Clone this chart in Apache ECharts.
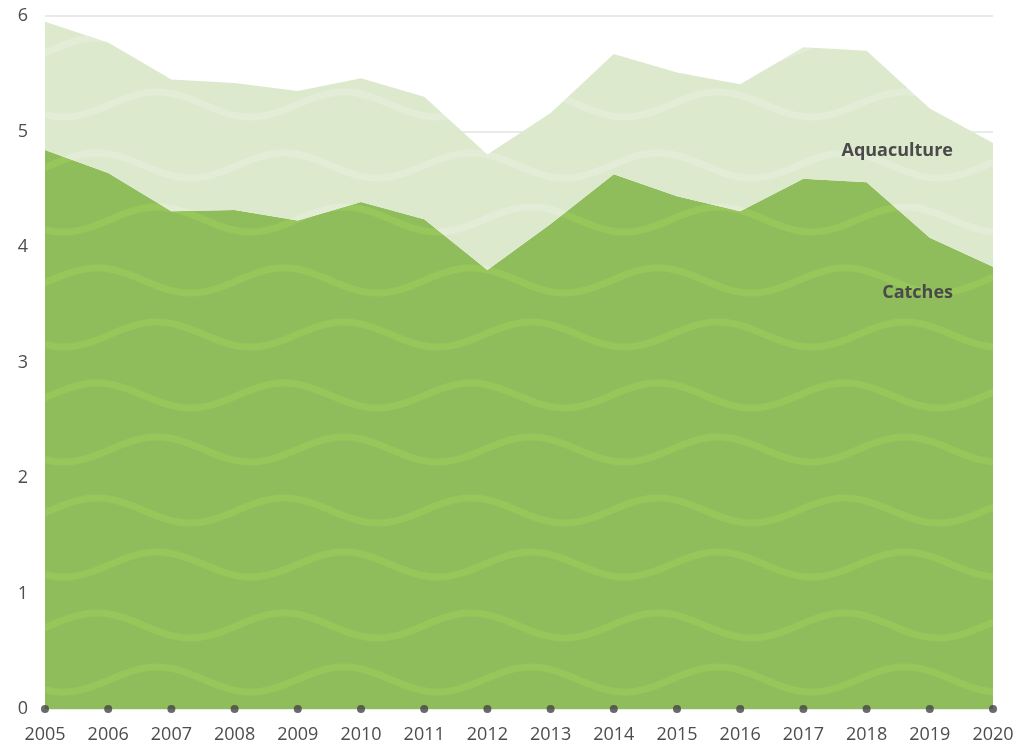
<!DOCTYPE html>
<html>
<head>
<meta charset="utf-8">
<style>
    html, body { margin: 0; padding: 0; background: #fff; }
    #chart { width: 1020px; height: 744px; }
</style>
<script src="https://cdn.jsdelivr.net/npm/echarts@6/dist/echarts.min.js"></script>
</head>
<body>
<div id="chart"></div>
<script>
    // years on the x axis
    var years = ['2005', '2006', '2007', '2008', '2009', '2010', '2011', '2012',
                 '2013', '2014', '2015', '2016', '2017', '2018', '2019', '2020'];
    // bottom layer
    var catches = [4.84, 4.64, 4.31, 4.32, 4.23, 4.39, 4.24, 3.80,
                   4.20, 4.63, 4.44, 4.31, 4.59, 4.56, 4.08, 3.83];
    // stacked on top of catches
    var aquaculture = [1.11, 1.13, 1.14, 1.10, 1.12, 1.07, 1.06, 1.00,
                       0.96, 1.04, 1.07, 1.10, 1.14, 1.14, 1.12, 1.07];
    var yTicks = [0, 1, 2, 3, 4, 5, 6];

    var FONT = '"Open Sans", "Noto Sans", sans-serif';

    // wavy fill used by both areas
    function makeWave(bg, fg) {
        var w = 187, h = 115;
        var c = document.createElement('canvas');
        c.width = w; c.height = h;
        var ctx = c.getContext('2d');
        ctx.fillStyle = bg;
        ctx.fillRect(0, 0, w, h);
        ctx.strokeStyle = fg;
        ctx.lineWidth = 7;
        function wave(cy, crestX) {
            ctx.beginPath();
            for (var x = -4; x <= w + 4; x++) {
                var y = cy - 12.5 * Math.cos(2 * Math.PI * (x - crestX) / w);
                if (x === -4) ctx.moveTo(x, y); else ctx.lineTo(x, y);
            }
            ctx.stroke();
        }
        wave(50.5, 97);
        wave(104.5, 157);
        wave(104.5 - h, 157);
        return c;
    }

    var chart = echarts.init(document.getElementById('chart'));
    chart.setOption({
        animation: false,
        grid: { left: 45, right: 27, top: 16, bottom: 34 },
        xAxis: {
            type: 'category',
            data: years,
            boundaryGap: false,
            axisLine: { show: false },
            axisTick: { show: false },
            axisLabel: { color: '#4d4d4d', fontSize: 18, fontFamily: FONT, margin: 17 }
        },
        yAxis: {
            type: 'value',
            min: yTicks[0],
            max: yTicks[yTicks.length - 1],
            interval: 1,
            axisLine: { show: false },
            axisTick: { show: false },
            axisLabel: { color: '#4d4d4d', fontSize: 18, fontFamily: FONT, margin: 17 },
            splitLine: { lineStyle: { color: '#e3e3e3', width: 1.5 } }
        },
        series: [
            {
                name: 'Catches',
                type: 'line',
                stack: 'total',
                data: catches,
                showSymbol: false,
                lineStyle: { width: 0 },
                areaStyle: { opacity: 1, color: { image: makeWave('#8fbd5c', '#97c65b'), repeat: 'repeat' } }
            },
            {
                name: 'Aquaculture',
                type: 'line',
                stack: 'total',
                data: aquaculture,
                showSymbol: false,
                lineStyle: { width: 0 },
                areaStyle: { opacity: 1, color: { image: makeWave('#dce9cd', '#e2ecd7'), repeat: 'repeat' } }
            },
            {
                // dots on the baseline
                type: 'scatter',
                data: years.map(function () { return 0; }),
                symbol: 'circle',
                symbolSize: 8,
                clip: false,
                z: 10,
                itemStyle: { color: '#454545' },
                silent: true
            }
        ],
        graphic: [
            {
                type: 'text', right: 67, top: 142, z: 100,
                style: { text: 'Aquaculture', font: 'bold 18px ' + FONT, fill: '#4a4a4a' }
            },
            {
                type: 'text', right: 67, top: 284, z: 100,
                style: { text: 'Catches', font: 'bold 18px ' + FONT, fill: '#4a4a4a' }
            }
        ]
    });
</script>
</body>
</html>
